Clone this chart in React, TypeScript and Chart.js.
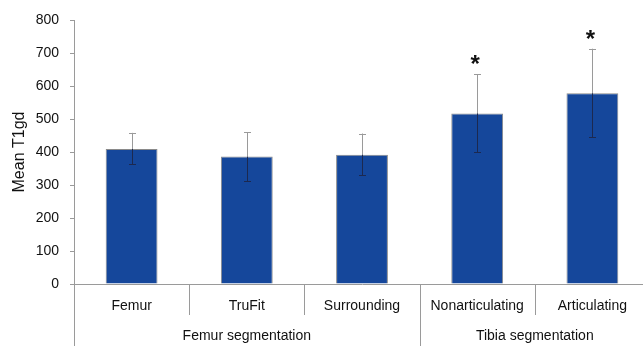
import React, { useEffect, useRef } from "react";
import { Chart, registerables } from "chart.js";

Chart.register(...registerables);

const categories = ["Femur", "TruFit", "Surrounding", "Nonarticulating", "Articulating"];
const means = [409, 386, 392, 517, 578];
const errLow = [363, 312, 329, 399, 445];
const errHigh = [458, 460, 456, 635, 713];
const significant = [false, false, false, true, true];
const groups = ["Femur segmentation", "Tibia segmentation"];
const groupSizes = [3, 2];

const FONT = "'Liberation Sans', Arial, sans-serif";

const decorPlugin = {
  id: "decor",
  afterDatasetsDraw(chart: any) {
    const ctx = chart.ctx;
    const y = chart.scales.y;
    const meta = chart.getDatasetMeta(0);
    ctx.save();
    meta.data.forEach((bar: any, i: number) => {
      const x = Math.round(bar.x) + 0.5;
      const top = y.getPixelForValue(errHigh[i]);
      const bot = y.getPixelForValue(errLow[i]);
      const barTop = y.getPixelForValue(means[i]);
      ctx.lineWidth = 1;
      ctx.strokeStyle = "#9a9a9a";
      ctx.beginPath();
      ctx.moveTo(x, top);
      ctx.lineTo(x, barTop);
      ctx.moveTo(x - 3.5, Math.round(top) + 0.5);
      ctx.lineTo(x + 3.5, Math.round(top) + 0.5);
      ctx.stroke();
      ctx.strokeStyle = "#1c2950";
      ctx.beginPath();
      ctx.moveTo(x, barTop);
      ctx.lineTo(x, bot);
      ctx.moveTo(x - 3.5, Math.round(bot) + 0.5);
      ctx.lineTo(x + 3.5, Math.round(bot) + 0.5);
      ctx.stroke();
      if (significant[i]) {
        ctx.fillStyle = "#111";
        ctx.font = `bold 24px ${FONT}`;
        ctx.textAlign = "center";
        ctx.textBaseline = "alphabetic";
        ctx.fillText("*", bar.x - 2, top - 2);
      }
    });
    ctx.restore();
  },
  afterDraw(chart: any) {
    const ctx = chart.ctx;
    const x = chart.scales.x;
    const area = chart.chartArea;
    const base = area.bottom;
    ctx.save();
    ctx.strokeStyle = "#9a9a9a";
    ctx.lineWidth = 1;
    ctx.beginPath();
    const lx = Math.round(area.left) + 0.5;
    ctx.moveTo(lx, base);
    ctx.lineTo(lx, chart.height);
    ctx.stroke();
    const groupEnds: number[] = [];
    let acc = 0;
    groupSizes.forEach((s) => {
      acc += s;
      groupEnds.push(acc);
    });
    for (let i = 1; i < categories.length; i++) {
      const bx = Math.round((x.getPixelForValue(i - 1) + x.getPixelForValue(i)) / 2) + 0.5;
      const isGroup = groupEnds.includes(i);
      ctx.beginPath();
      ctx.moveTo(bx, base);
      ctx.lineTo(bx, isGroup ? chart.height : base + 31);
      ctx.stroke();
    }
    ctx.fillStyle = "#111";
    ctx.font = `14px ${FONT}`;
    ctx.textAlign = "center";
    ctx.textBaseline = "middle";
    let start = 0;
    groups.forEach((g, gi) => {
      const end = start + groupSizes[gi];
      const left =
        start === 0 ? area.left : (x.getPixelForValue(start - 1) + x.getPixelForValue(start)) / 2;
      const right =
        end >= categories.length ? area.right : (x.getPixelForValue(end - 1) + x.getPixelForValue(end)) / 2;
      ctx.fillText(g, (left + right) / 2, 336);
      start = end;
    });
    ctx.restore();
  },
};

export default function App() {
  const ref = useRef<HTMLCanvasElement>(null);
  useEffect(() => {
    const chart = new Chart(ref.current!, {
      type: "bar",
      data: {
        labels: categories,
        datasets: [
          {
            data: means,
            backgroundColor: "#15479b",
            borderColor: "#8a8a8a",
            borderWidth: 1,
            categoryPercentage: 1,
            barPercentage: 0.45,
          },
        ],
      },
      options: {
        responsive: false,
        animation: false,
        devicePixelRatio: 1,
        layout: { padding: { top: 20, right: 10, left: 0, bottom: 0 } },
        plugins: { legend: { display: false }, tooltip: { enabled: false } },
        scales: {
          x: {
            afterFit: (s: any) => {
              s.height = 62;
            },
            grid: { display: true, drawOnChartArea: false, drawTicks: false, color: "rgba(0,0,0,0)" },
            border: { display: true, color: "#9a9a9a" },
            ticks: { color: "#111", font: { family: FONT, size: 14 }, padding: 14, maxRotation: 0, autoSkip: false },
          },
          y: {
            min: 0,
            max: 800,
            afterFit: (s: any) => {
              s.width = 74;
            },
            grid: { display: true, drawOnChartArea: false, drawTicks: true, tickLength: 4, color: "#9a9a9a" },
            border: { display: true, color: "#9a9a9a" },
            ticks: { stepSize: 100, color: "#111", font: { family: FONT, size: 14 }, padding: 11 },
            title: {
              display: true,
              text: "Mean T1gd",
              color: "#111",
              font: { family: FONT, size: 16 },
              padding: { top: 10, bottom: 0 },
            },
          },
        },
      },
      plugins: [decorPlugin],
    });
    return () => chart.destroy();
  }, []);
  return (
    <div style={{ position: "fixed", left: 0, top: 0, width: 643, height: 346, overflow: "hidden", background: "#fff" }}>
      <canvas ref={ref} width={660} height={346} />
    </div>
  );
}
